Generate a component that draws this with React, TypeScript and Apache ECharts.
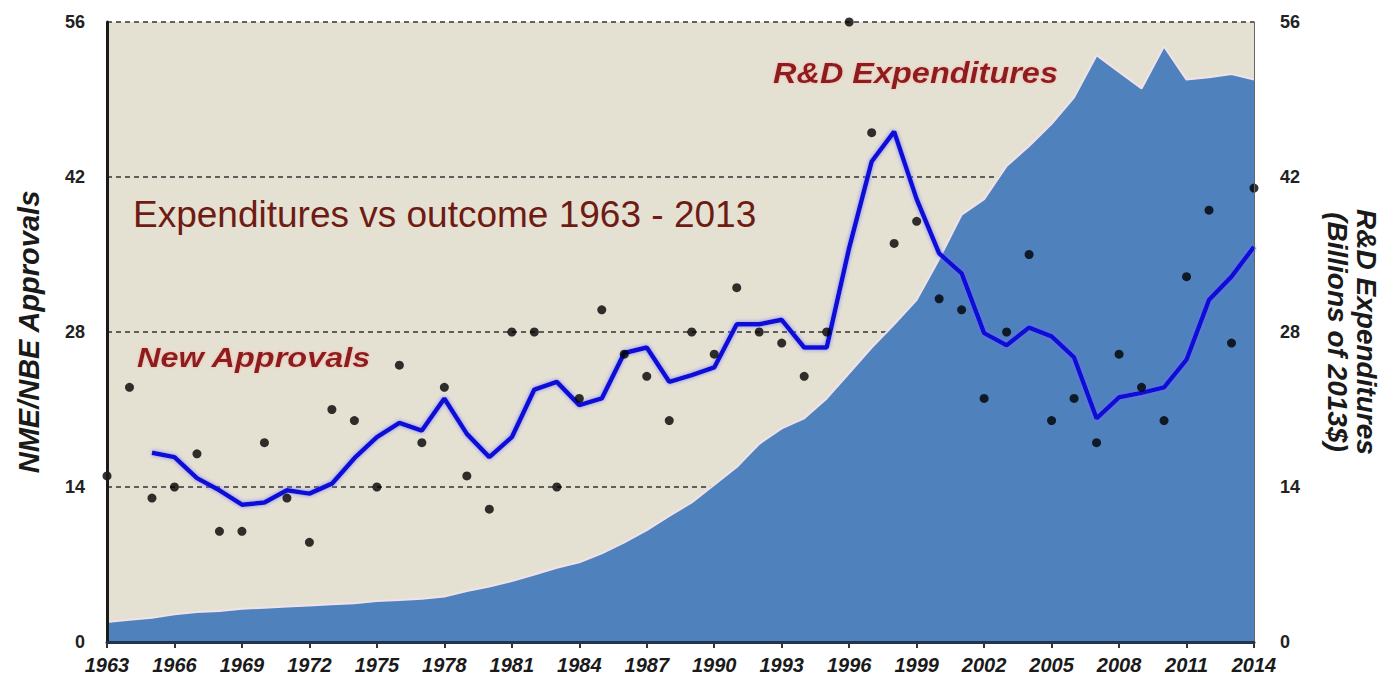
import React, { useEffect, useRef } from "react";
import * as echarts from "echarts";

const years = [
  "1963", "1964", "1965", "1966", "1967", "1968", "1969", "1970", "1971", "1972",
  "1973", "1974", "1975", "1976", "1977", "1978", "1979", "1980", "1981", "1982",
  "1983", "1984", "1985", "1986", "1987", "1988", "1989", "1990", "1991", "1992",
  "1993", "1994", "1995", "1996", "1997", "1998", "1999", "2000", "2001", "2002",
  "2003", "2004", "2005", "2006", "2007", "2008", "2009", "2010", "2011", "2012",
  "2013", "2014",
];

// NME/NBE approvals per year (dots)
const approvals = [
  15, 23, 13, 14, 17, 10, 10, 18, 13, 9,
  21, 20, 14, 25, 18, 23, 15, 12, 28, 28,
  14, 22, 30, 26, 24, 20, 28, 26, 32, 28,
  27, 24, 28, 56, 46, 36, 38, 31, 30, 22,
  28, 35, 20, 22, 18, 26, 23, 20, 33, 39,
  27, 41,
];

// Moving average of approvals (blue line), starts in 1965
const approvalsTrend = [
  null, null, 17.1, 16.7, 14.8, 13.7, 12.4, 12.6, 13.7, 13.4,
  14.3, 16.6, 18.5, 19.8, 19.1, 22.0, 18.8, 16.7, 18.5, 22.8,
  23.5, 21.4, 22.0, 26.1, 26.6, 23.5, 24.1, 24.8, 28.7, 28.7,
  29.1, 26.6, 26.6, 35.6, 43.4, 46.1, 40.0, 35.1, 33.3, 27.9,
  26.8, 28.4, 27.6, 25.7, 20.2, 22.1, 22.5, 23.0, 25.5, 30.9,
  33.0, 35.7,
];

// R&D expenditures, billions of 2013$ (area)
const rdExpenditures = [
  1.8, 2.0, 2.2, 2.5, 2.7, 2.8, 3.0, 3.1, 3.2, 3.3,
  3.4, 3.5, 3.7, 3.8, 3.9, 4.1, 4.6, 5.0, 5.5, 6.1,
  6.7, 7.2, 8.0, 9.0, 10.1, 11.4, 12.6, 14.2, 15.8, 17.9,
  19.3, 20.2, 22.0, 24.3, 26.6, 28.7, 30.9, 34.6, 38.6, 40.0,
  43.0, 44.8, 46.8, 49.2, 53.0, 51.5, 50.0, 53.8, 50.8, 51.0,
  51.3, 50.8,
];

const axisMin = 0;
const axisMax = 56;
const axisInterval = 14;

const FONT = "'Liberation Sans', Arial, sans-serif";

export default function App() {
  const ref = useRef<HTMLDivElement>(null);

  useEffect(() => {
    document.body.style.margin = "0";
    const chart = echarts.init(ref.current!, null, { renderer: "svg" });
    chart.setOption({
      animation: false,
      backgroundColor: "#ffffff",
      title: {
        text: "Expenditures vs outcome 1963 - 2013",
        left: 128,
        top: 191,
        textStyle: {
          fontFamily: FONT,
          fontSize: 37,
          fontWeight: "normal",
          color: "#6E1B14",
        },
      },
      grid: {
        left: 107,
        right: 130,
        top: 22,
        bottom: 40,
        show: true,
        backgroundColor: "#E5E1D2",
        borderWidth: 0,
      },
      xAxis: {
        type: "category",
        data: years,
        boundaryGap: false,
        z: 10,
        axisLine: { show: true, lineStyle: { color: "#22344f", width: 3 } },
        axisTick: {
          show: true,
          interval: 2,
          length: 6,
          lineStyle: { color: "#333", width: 2 },
        },
        axisLabel: {
          interval: 2,
          margin: 13,
          fontFamily: FONT,
          fontSize: 20,
          fontStyle: "italic",
          fontWeight: "bold",
          color: "#1a1a1a",
        },
        splitLine: { show: false },
      },
      yAxis: [
        {
          type: "value",
          min: axisMin,
          max: axisMax,
          interval: axisInterval,
          position: "left",
          name: "NME/NBE Approvals",
          nameLocation: "middle",
          nameRotate: 90,
          nameGap: 64,
          nameTextStyle: {
            fontFamily: FONT,
            fontSize: 29,
            fontStyle: "italic",
            fontWeight: "bold",
            color: "#1a1a1a",
          },
          axisLine: { show: false },
          axisTick: { show: false },
          axisLabel: {
            margin: 22,
            fontFamily: FONT,
            fontSize: 18,
            fontWeight: "bold",
            color: "#222",
          },
          splitLine: {
            show: true,
            lineStyle: { color: "#333", width: 1.5, type: [5, 4] },
          },
        },
        {
          type: "value",
          min: axisMin,
          max: axisMax,
          interval: axisInterval,
          position: "right",
          name: "R&D Expenditures\n(Billions of 2013$)",
          nameLocation: "middle",
          nameRotate: -90,
          nameGap: 69,
          nameTextStyle: {
            fontFamily: FONT,
            fontSize: 28,
            lineHeight: 29,
            fontStyle: "italic",
            fontWeight: "bold",
            color: "#1a1a1a",
            align: "center",
          },
          z: 10,
          axisLine: { show: true, lineStyle: { color: "#666", width: 1 } },
          axisTick: { show: false },
          axisLabel: {
            margin: 26,
            fontFamily: FONT,
            fontSize: 18,
            fontWeight: "bold",
            color: "#222",
          },
          splitLine: { show: false },
        },
        {
          type: "value",
          min: axisMin,
          max: axisMax,
          interval: axisInterval,
          position: "left",
          z: 10,
          axisLine: { show: true, lineStyle: { color: "#1a1a1a", width: 3 } },
          axisTick: { show: false },
          axisLabel: { show: false },
          splitLine: { show: false },
        },
      ],
      graphic: [
        {
          type: "text",
          x: 137,
          y: 357,
          scaleX: 1.16,
          z: 10,
          style: {
            text: "New Approvals",
            font: `italic bold 28px ${FONT}`,
            fill: "#8E1D1D",
            textVerticalAlign: "middle",
            textShadowColor: "rgba(255,140,140,0.6)",
            textShadowBlur: 3,
          },
        },
        {
          type: "text",
          x: 773,
          y: 73,
          scaleX: 1.12,
          z: 10,
          style: {
            text: "R&D Expenditures",
            font: `italic bold 29px ${FONT}`,
            fill: "#8E1D1D",
            textVerticalAlign: "middle",
            textShadowColor: "rgba(255,140,140,0.6)",
            textShadowBlur: 3,
          },
        },
      ],
      series: [
        {
          name: "R&D Expenditures",
          type: "line",
          yAxisIndex: 1,
          data: rdExpenditures,
          showSymbol: false,
          symbol: "none",
          lineStyle: { color: "#efe2ea", width: 2 },
          areaStyle: { color: "#4F81BD", opacity: 1 },
          z: 2,
        },
        {
          name: "New Approvals trend",
          type: "line",
          yAxisIndex: 0,
          data: approvalsTrend,
          showSymbol: false,
          symbol: "none",
          connectNulls: false,
          lineStyle: {
            color: "#0E0ED6",
            width: 4.5,
            shadowColor: "rgba(110,110,255,0.8)",
            shadowBlur: 4,
          },
          z: 3,
        },
        {
          name: "NME/NBE Approvals",
          type: "scatter",
          yAxisIndex: 0,
          data: approvals,
          symbol: "circle",
          symbolSize: 9,
          itemStyle: { color: "#000" },
          clip: false,
          z: 4,
        },
      ],
    });
    return () => chart.dispose();
  }, []);

  return (
    <div
      ref={ref}
      style={{ position: "absolute", left: 0, top: 0, width: 1389, height: 682 }}
    />
  );
}
